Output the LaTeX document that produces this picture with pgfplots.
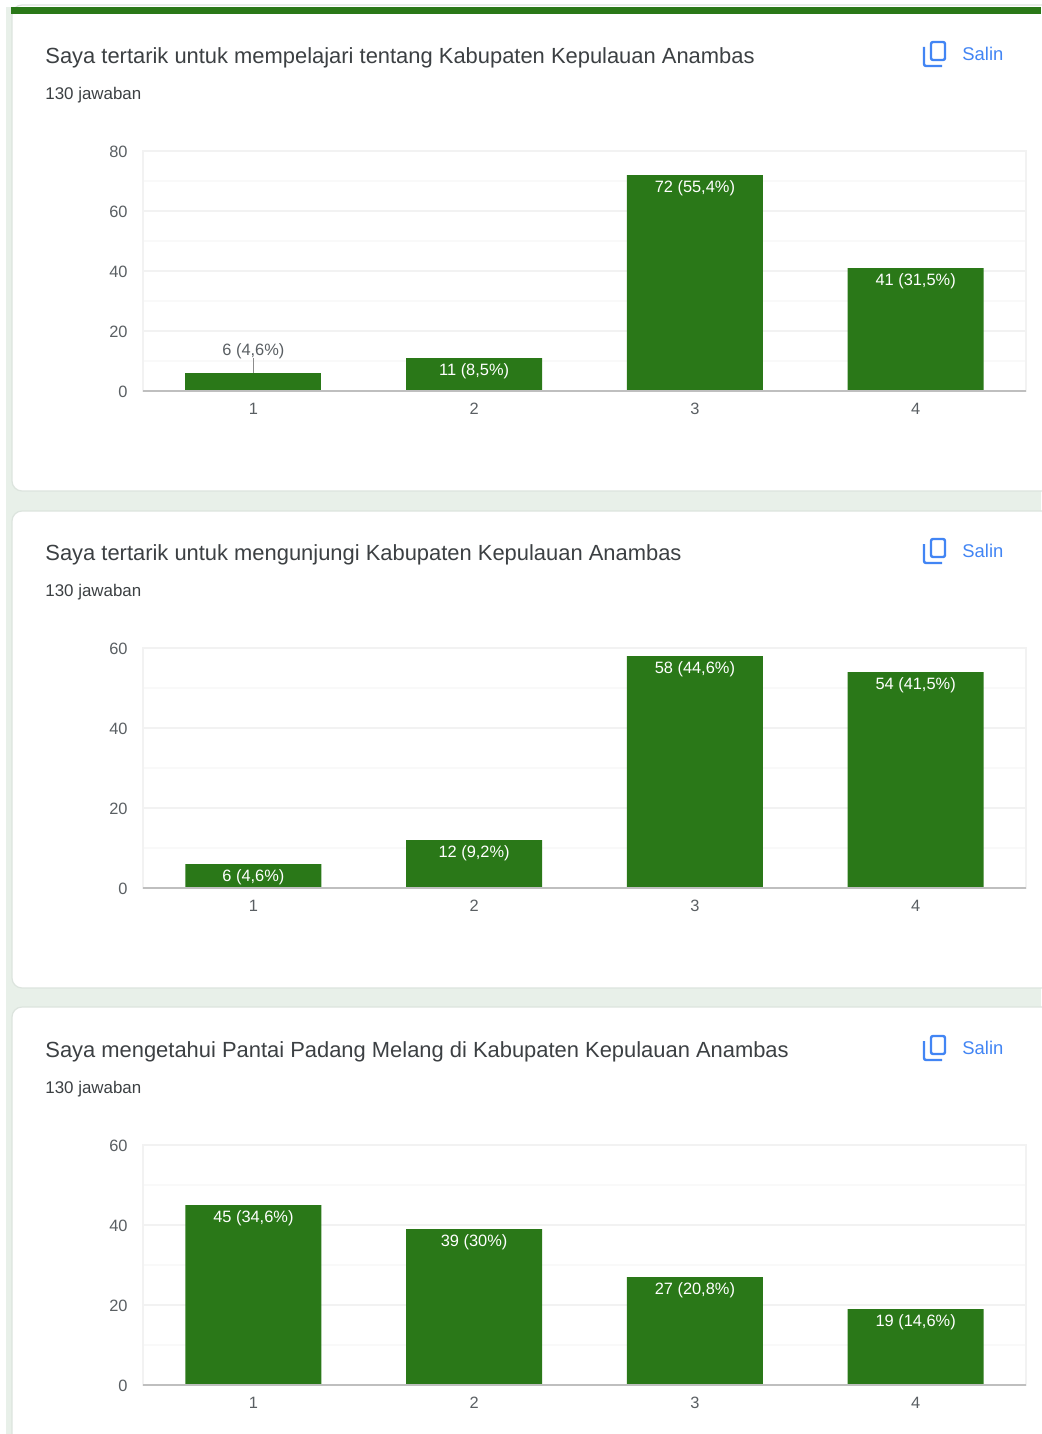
\documentclass[border=0pt]{standalone}
\usepackage{fontspec}
\setmainfont{Liberation Sans}
\usepackage{pgfplots}
\pgfplotsset{compat=1.18}
\definecolor{bargreen}{HTML}{2A7818}
\definecolor{pagebg}{HTML}{E8F0E9}
\definecolor{cardline}{HTML}{DCE4DE}
\definecolor{titlecol}{HTML}{3C4043}
\definecolor{tickcol}{HTML}{5A5F63}
\definecolor{bluecol}{HTML}{4285F4}
\pgfplotsset{
  chart/.style={
    scale only axis, width=441.5pt, height=120pt, anchor=south west,
    xmin=-0.5, xmax=3.5, ymin=0,
    xtick={0,1,2,3}, xticklabels={1,2,3,4},
    minor y tick num=1, ymajorgrids, yminorgrids,
    major grid style={color=black!5, line width=0.6pt},
    minor grid style={color=black!2.5, line width=0.6pt},
    axis line style={color=black!5, line width=0.6pt},
    major tick length=0pt, minor tick length=0pt,
    tick label style={font=\fontsize{8.2}{10}\selectfont, text=tickcol},
    xticklabel style={yshift=-2.7pt},
    yticklabel style={xshift=-4.2pt, yshift=-0.2pt},
    /pgf/number format/assume math mode=true,
    clip=false,
  },
  bars/.style={ybar, bar width=68pt, bar shift=0pt, fill=bargreen, draw=none,
    point meta=explicit symbolic, nodes near coords},
  inlab/.style={nodes near coords style={anchor=north, yshift=0.7pt, text=white, font=\fontsize{8.2}{10}\selectfont}},
  outlab/.style={nodes near coords style={anchor=south, yshift=3.4pt, text=tickcol, font=\fontsize{8.2}{10}\selectfont}},
}
\newcommand{\card}[3]{% y-top, y-bottom, title
  \fill[white,draw=cardline,line width=0.6pt,rounded corners=5pt] (12,#1) rectangle (1060,#2);
}
\newcommand{\cardtext}[2]{% yshift pt, title
  \begin{scope}[yshift=#1]
    \node[anchor=west,inner sep=0pt,text=titlecol,font=\fontsize{10.96}{13}\selectfont] at (45,57.5) {#2};
    \node[anchor=west,inner sep=0pt,text=titlecol,font=\fontsize{8.45}{10}\selectfont] at (45,95) {130 jawaban};
    \node[anchor=west,inner sep=0pt,text=bluecol,font=\fontsize{9.2}{11}\selectfont] at (962,54) {Salin};
    \draw[bluecol,line width=1.2pt,rounded corners=1pt] (931,42) rectangle (945,60);
    \draw[bluecol,line width=1.2pt,rounded corners=1pt] (924,47) -- (924,66) -- (942,66);
  \end{scope}
}
\begin{document}
\begin{tikzpicture}[x=0.5pt,y=-0.5pt]
\path[use as bounding box] (0,0) rectangle (1041,1434);
\fill[white] (0,0) rectangle (1041,1434);
\fill[pagebg] (6,7) rectangle (1041,1434);
\fill[white] (12,14) -- (1041,14) -- (1041,480) -- (12,480) -- cycle;
\card{5}{491}{}
\card{511}{988}{}
\card{1007}{1480}{}
\fill[bargreen] (11,7) rectangle (1041,14);
\cardtext{0pt}{Saya tertarik untuk mempelajari tentang Kabupaten Kepulauan Anambas}
\cardtext{-248.5pt}{Saya tertarik untuk mengunjungi Kabupaten Kepulauan Anambas}
\cardtext{-497pt}{Saya mengetahui Pantai Padang Melang di Kabupaten Kepulauan Anambas}

\begin{axis}[chart, at={(71.5pt,-195.5pt)}, ymax=80, ytick={0,20,40,60,80}]
  \addplot[bars,outlab] coordinates {(0,6)[6 (4,6\%)]};
  \addplot[bars,inlab] coordinates {(1,11)[11 (8,5\%)] (2,72)[72 (55,4\%)] (3,41)[41 (31,5\%)]};
  \addplot[sharp plot,no markers,color=black!45,line width=0.5pt] coordinates {(0,6) (0,11)};
  \draw[color=black!25,line width=1.1pt] (axis cs:-0.5,0) -- (axis cs:3.5,0);
\end{axis}

\begin{axis}[chart, at={(71.5pt,-444pt)}, ymax=60, ytick={0,20,40,60}]
  \addplot[bars,inlab] coordinates {(0,6)[6 (4,6\%)] (1,12)[12 (9,2\%)] (2,58)[58 (44,6\%)] (3,54)[54 (41,5\%)]};
  \draw[color=black!25,line width=1.1pt] (axis cs:-0.5,0) -- (axis cs:3.5,0);
\end{axis}

\begin{axis}[chart, at={(71.5pt,-692.5pt)}, ymax=60, ytick={0,20,40,60}]
  \addplot[bars,inlab] coordinates {(0,45)[45 (34,6\%)] (1,39)[39 (30\%)] (2,27)[27 (20,8\%)] (3,19)[19 (14,6\%)]};
  \draw[color=black!25,line width=1.1pt] (axis cs:-0.5,0) -- (axis cs:3.5,0);
\end{axis}
\end{tikzpicture}
\end{document}
